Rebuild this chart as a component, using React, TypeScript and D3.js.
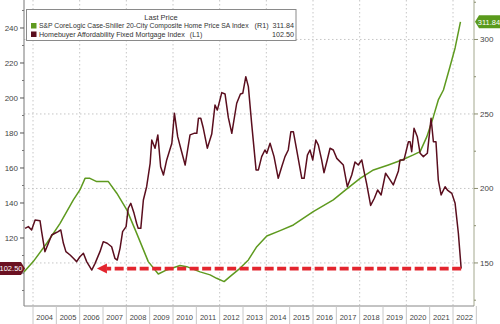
import React from "react";
import * as d3 from "d3";

// Homebuyer Affordability Fixed Mortgage Index (L1) — decimal year, value
const affordT = [2003.66,2003.80,2003.94,2004.09,2004.30,2004.37,2004.51,2004.66,2004.80,2004.94,2005.08,2005.19,2005.30,2005.41,2005.59,2005.73,2005.87,2006.01,2006.16,2006.30,2006.52,2006.66,2006.87,2007.01,2007.18,2007.37,2007.51,2007.61,2007.73,2007.84,2007.99,2008.08,2008.19,2008.33,2008.44,2008.51,2008.62,2008.73,2008.87,2009.02,2009.09,2009.23,2009.35,2009.47,2009.59,2009.73,2009.95,2010.06,2010.20,2010.37,2010.52,2010.73,2010.90,2011.02,2011.09,2011.19,2011.30,2011.47,2011.66,2011.80,2011.90,2012.09,2012.23,2012.37,2012.52,2012.73,2012.89,2012.99,2013.12,2013.23,2013.37,2013.56,2013.66,2013.80,2013.94,2014.02,2014.16,2014.33,2014.51,2014.66,2014.80,2014.94,2015.05,2015.16,2015.30,2015.52,2015.62,2015.76,2015.87,2015.99,2016.12,2016.23,2016.37,2016.47,2016.61,2016.73,2016.87,2017.02,2017.30,2017.47,2017.66,2017.80,2017.94,2018.09,2018.19,2018.30,2018.47,2018.63,2018.77,2018.92,2019.11,2019.26,2019.44,2019.66,2019.73,2019.90,2020.09,2020.16,2020.23,2020.33,2020.47,2020.59,2020.73,2020.90,2021.06,2021.16,2021.27,2021.37,2021.49,2021.66,2021.76,2021.95,2022.09,2022.23,2022.35];
const affordV = [125.5,126.5,124.6,130.3,129.9,123.6,112.2,117.0,121.7,122.7,123.6,124.6,117.1,112.2,110.3,108.4,106.5,109.3,111.3,106.5,101.7,105.5,112.2,117.9,117.0,115.0,108.4,107.4,114.1,123.6,126.5,137.0,139.8,134.1,128.4,125.5,125.5,141.7,149.3,162.7,176.0,171.3,178.9,160.7,156.0,164.6,174.1,191.3,177.9,169.3,161.7,178.9,179.8,179.8,188.4,188.4,182.7,171.3,179.4,196.0,193.1,203.1,202.3,188.9,179.8,197.0,202.3,202.7,212.2,206.5,185.5,158.9,158.9,166.5,170.3,168.4,174.1,166.5,154.1,160.7,166.5,170.3,180.7,180.7,170.3,154.1,154.1,167.4,170.3,164.6,176.0,173.1,164.6,157.3,164.6,171.3,170.3,165.5,161.7,149.3,156.0,163.4,161.7,164.6,157.9,150.9,138.6,142.7,147.4,144.6,157.0,154.1,150.3,158.3,164.6,164.6,175.0,175.0,169.3,182.7,177.9,168.4,166.5,168.4,188.4,175.0,175.0,153.1,144.6,149.3,147.4,145.5,139.8,122.7,102.5];

// S&P CoreLogic Case-Shiller 20-City Composite Home Price SA Index (R1)
const csT = [2003.61,2004.01,2004.59,2005.16,2005.73,2006.01,2006.23,2006.44,2006.73,2007.23,2007.59,2008.02,2008.44,2008.94,2009.37,2009.73,2010.30,2010.59,2011.16,2011.59,2011.87,2012.19,2012.44,2012.87,2013.23,2013.59,2014.02,2014.59,2015.16,2016.01,2016.87,2017.45,2018.02,2018.59,2019.23,2019.81,2020.30,2020.59,2020.88,2021.16,2021.37,2021.59,2021.87,2022.09,2022.32];
const csV = [144.0,150.9,163.2,176.6,192.3,199.0,206.8,206.8,204.6,204.6,196.8,185.6,170.0,150.9,142.6,145.3,148.3,147.5,144.0,142.0,139.7,137.5,140.8,146.4,152.0,160.9,168.1,171.7,175.5,184.4,192.3,199.7,206.8,212.4,215.8,219.1,222.5,224.7,234.8,248.2,259.4,266.1,281.7,294.3,311.84];

const years = d3.range(2004, 2023);
const leftTicks = [100, 120, 140, 160, 180, 200, 220, 240];
const leftMinor = [90, 110, 130, 150, 170, 190, 210, 230, 250];
const rightTicks = [150, 200, 250, 300];
const rightMinor = [125, 175, 225, 275, 325];
const gridYears = [2004, 2006, 2008, 2010, 2012, 2014, 2016, 2018, 2020, 2022];

const legendTitle = "Last Price";
const csName = "S&P CoreLogic Case-Shiller 20-City Composite Home Price SA Index";
const affName = "Homebuyer Affordability Fixed Mortgage Index";
const csLast = "311.84";
const affLast = "102.50";
const arrowFrom = 2022.35;
const arrowTo = 2006.74;
const arrowLevel = 102.5;

const W = 500, H = 324;
const GREEN = "#5e9a1f";
const MAROON = "#5a0e1e";
const FONT = "Liberation Sans, Arial, sans-serif";

export default function App() {
  const x = d3.scaleLinear().domain([2003.614, 2022.9]).range([24, 474]);
  const yL = d3.scaleLinear().domain([81.14, 256]).range([306, 0]);
  const yR = d3.scaleLinear().domain([121.1, 326.5]).range([306, 0]);

  const affLine = d3.line<number>().x((_, i) => x(affordT[i])).y((d) => yL(d));
  const csLine = d3.line<number>().x((_, i) => x(csT[i])).y((d) => yR(d));

  const ay = yL(arrowLevel);
  const tipX = x(arrowTo);
  const baseX = tipX + 10;
  const endX = x(arrowFrom);

  const gy = yR(csV[csV.length - 1]);

  return (
    <svg width={W} height={H} style={{ position: "absolute", left: 0, top: 0, background: "#fff" }} fontFamily={FONT}>
      <rect x={0} y={0} width={W} height={H} fill="#fff" />
      {/* gridlines */}
      {gridYears.map((yr) => (
        <line key={"gv" + yr} x1={x(yr)} x2={x(yr)} y1={0} y2={306} stroke="#b8b8b8" strokeWidth={0.8} strokeDasharray="1.5,2.5" />
      ))}
      {rightTicks.map((v) => (
        <line key={"gh" + v} x1={24} x2={474} y1={yR(v)} y2={yR(v)} stroke="#b8b8b8" strokeWidth={0.8} strokeDasharray="1.5,2.5" />
      ))}
      {/* axes */}
      <line x1={24} x2={24} y1={0} y2={306} stroke="#777" strokeWidth={1} />
      <line x1={474} x2={474} y1={0} y2={306} stroke="#a4a88e" strokeWidth={1} />
      <line x1={24} x2={474} y1={306} y2={306} stroke="#888" strokeWidth={1} />
      {leftTicks.map((v) => (
        <g key={"lt" + v}>
          <line x1={20} x2={24} y1={yL(v)} y2={yL(v)} stroke="#555" />
          {v !== 100 && (
            <text x={18} y={yL(v) + 2.8} fontSize={8} fill="#444" textAnchor="end">{v}</text>
          )}
        </g>
      ))}
      {leftMinor.map((v) => (
        <line key={"lm" + v} x1={22} x2={24} y1={yL(v)} y2={yL(v)} stroke="#777" />
      ))}
      {rightTicks.map((v) => (
        <g key={"rt" + v}>
          <line x1={474} x2={478} y1={yR(v)} y2={yR(v)} stroke="#8a8e70" />
          <text x={480} y={yR(v) + 2.8} fontSize={8} fill="#444">{v}</text>
        </g>
      ))}
      {rightMinor.map((v) => (
        <line key={"rm" + v} x1={474} x2={476} y1={yR(v)} y2={yR(v)} stroke="#8a8e70" />
      ))}
      {/* year band */}
      {years.map((yr) => (
        <g key={"yr" + yr}>
          <line x1={x(yr)} x2={x(yr)} y1={306} y2={324} stroke="#c8c8c8" />
          <text x={x(yr + 0.5)} y={320} fontSize={7.5} fill="#444" textAnchor="middle">{yr}</text>
        </g>
      ))}
      <line x1={x(2023)} x2={x(2023)} y1={306} y2={324} stroke="#c8c8c8" />
      {/* series */}
      <path d={csLine(csV) || ""} fill="none" stroke={GREEN} strokeWidth={1.5} strokeLinejoin="round" />
      <path d={affLine(affordV) || ""} fill="none" stroke={MAROON} strokeWidth={1.5} strokeLinejoin="round" />
      {/* red arrow */}
      <line x1={endX} x2={baseX} y1={ay} y2={ay} stroke="#e3252e" strokeWidth={3.6} strokeDasharray="9,3.5" />
      <path d={`M${tipX},${ay} L${baseX},${ay - 5} L${baseX},${ay + 5} Z`} fill="#e3252e" />
      {/* legend */}
      <rect x={26.5} y={9.5} width={269.5} height={31} fill="#fff" stroke="#8a8a8a" strokeWidth={1} />
      <text x={161} y={19.5} fontSize={7.5} fill="#333" textAnchor="middle">{legendTitle}</text>
      <rect x={31} y={23} width={5.5} height={5.5} fill={GREEN} />
      <text x={39} y={28.3} fontSize={6.8} fill="#333">{csName}</text>
      <text x={294} y={28.3} fontSize={7.2} fill="#333" textAnchor="end">(R1)<tspan dx={4}>{csLast}</tspan></text>
      <rect x={31} y={31.5} width={5.5} height={5.5} fill={MAROON} />
      <text x={39} y={36.8} fontSize={7.1} fill="#333">{affName}<tspan dx={5}>(L1)</tspan></text>
      <text x={294} y={36.8} fontSize={7.2} fill="#333" textAnchor="end">{affLast}</text>
      {/* badges */}
      <path d={`M0,${ay - 6.5} L21,${ay - 6.5} L25,${ay} L21,${ay + 6.5} L0,${ay + 6.5} Z`} fill="#6b1122" />
      <text x={11} y={ay + 2.8} fontSize={7.5} fill="#fff" textAnchor="middle">{affLast}</text>
      <path d={`M475,${gy} L479,${gy - 6.5} L500,${gy - 6.5} L500,${gy + 6.5} L479,${gy + 6.5} Z`} fill="#5a9a1c" />
      <text x={489} y={gy + 2.8} fontSize={7.5} fill="#fff" textAnchor="middle">{csLast}</text>
    </svg>
  );
}
